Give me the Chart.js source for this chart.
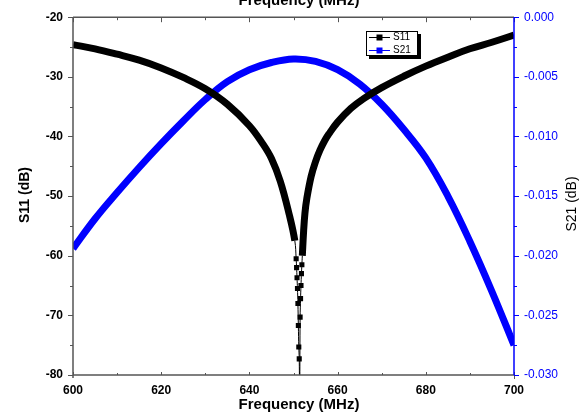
<!DOCTYPE html>
<html>
<head>
<meta charset="utf-8">
<script src="https://cdn.jsdelivr.net/npm/chart.js@4.4.0/dist/chart.umd.min.js"></script>
<style>
  html, body { margin: 0; padding: 0; background: #fff; }
  #wrap { width: 587px; height: 414px; }
</style>
</head>
<body>
<div id="wrap"><canvas id="grafico" width="587" height="414"></canvas></div>
<script>
// Datos
const freqS11 = [600, 605, 610, 615, 620, 625, 630, 635, 640, 643, 645, 647, 649,
  650.3, 650.6, 650.7, 650.8, 650.9, 651.0, 651.1, 651.2, 651.3, 651.4,
  651.5, 651.6, 651.7, 651.8, 651.9, 652.0, 652.3, 652.6, 653, 654, 655,
  656, 657, 658, 660, 663, 666, 670, 675, 680, 685, 690, 695, 700];
const s11 = [-24.6, -25.3, -26.2, -27.2, -28.5, -30.1, -32.0, -34.6, -38.2, -41.2, -43.7, -47.5, -53.0,
  -57.5, -60.5, -62.0, -63.7, -65.5, -68.0, -71.7, -75.3, -77.3, -84.0,
  -70.3, -67.2, -65.0, -63.0, -61.5, -60.0, -55.8, -52.8, -50.5, -46.7, -44.2,
  -42.3, -40.8, -39.6, -37.6, -35.3, -33.6, -31.8, -29.9, -28.2, -26.7, -25.3, -24.2, -23.0];

const freqS21 = [600, 605, 610, 615, 620, 625, 630, 635, 640, 645, 650, 655,
  660, 665, 670, 675, 680, 685, 690, 695, 700];
const s21 = [-0.0194, -0.0169, -0.0147, -0.0126, -0.0106, -0.0087, -0.0069, -0.0054, -0.0044, -0.0038, -0.0035, -0.0037,
  -0.0044, -0.0056, -0.0073, -0.0094, -0.0118, -0.0150, -0.0188, -0.0230, -0.0275];

const xTicks = [600, 620, 640, 660, 680, 700];
const yTicks = [-80, -70, -60, -50, -40, -30, -20];
const y2Ticks = [-0.030, -0.025, -0.020, -0.015, -0.010, -0.005, 0.000];

const fuente = "'Liberation Sans', Arial, sans-serif";
const azul = '#0000ff';

// Ejes, marcas, títulos y leyenda dibujados a mano
const ejesPlugin = {
  id: 'ejes',
  afterDraw(chart) {
    const { ctx, chartArea: a, scales } = chart;
    const sx = scales.x, sy = scales.y, sy2 = scales.y2;
    ctx.save();
    ctx.lineWidth = 1.5;
    ctx.strokeStyle = '#555';
    ctx.beginPath();
    ctx.moveTo(a.left, a.top); ctx.lineTo(a.right, a.top);
    ctx.moveTo(a.left, a.bottom); ctx.lineTo(a.right, a.bottom);
    ctx.moveTo(a.left, a.top); ctx.lineTo(a.left, a.bottom + 3);
    ctx.stroke();

    ctx.lineWidth = 1;
    ctx.beginPath();
    for (let f = 600; f <= 700; f += 10) {
      const px = Math.round(sx.getPixelForValue(f)) + 0.5;
      const mayor = f % 20 === 0;
      ctx.moveTo(px, a.top); ctx.lineTo(px, a.top + (mayor ? 5 : 3));
      ctx.moveTo(px, a.bottom); ctx.lineTo(px, a.bottom - (mayor ? 3 : 2));
      if (f === 700) { ctx.moveTo(px, a.bottom); ctx.lineTo(px, a.bottom + 4); }
    }
    for (let v = -80; v <= -20; v += 5) {
      const py = Math.round(sy.getPixelForValue(v)) + 0.5;
      const mayor = v % 10 === 0;
      ctx.moveTo(a.left, py); ctx.lineTo(a.left - (mayor ? 5 : 3), py);
    }
    ctx.stroke();

    ctx.strokeStyle = azul;
    ctx.lineWidth = 1.5;
    ctx.beginPath();
    ctx.moveTo(a.right, a.top); ctx.lineTo(a.right, a.bottom);
    ctx.stroke();
    ctx.lineWidth = 1;
    ctx.beginPath();
    for (let i = 0; i <= 12; i++) {
      const v = -0.0025 * i;
      const py = Math.round(sy2.getPixelForValue(v)) + 0.5;
      ctx.moveTo(a.right, py); ctx.lineTo(a.right + (i % 2 === 0 ? 5 : 3), py);
    }
    ctx.stroke();

    // títulos
    ctx.fillStyle = '#000';
    ctx.font = 'bold 15px ' + fuente;
    ctx.textAlign = 'center';
    ctx.textBaseline = 'alphabetic';
    ctx.fillText('Frequency (MHz)', 299, 409);
    ctx.fillText('Frequency (MHz)', 299, 5);

    ctx.save();
    ctx.translate(25, 195);
    ctx.rotate(-Math.PI / 2);
    ctx.font = 'bold 14px ' + fuente;
    ctx.textBaseline = 'middle';
    ctx.fillText('S11 (dB)', 0, 0);
    ctx.restore();

    ctx.save();
    ctx.translate(572, 204);
    ctx.rotate(-Math.PI / 2);
    ctx.font = '14px ' + fuente;
    ctx.textBaseline = 'middle';
    ctx.fillText('S21 (dB)', 0, 0);
    ctx.restore();

    // leyenda
    const lx = 366, ly = 31, lw = 52, lh = 25;
    ctx.fillStyle = '#000';
    ctx.fillRect(lx + 3, ly + 3, lw, lh);
    ctx.fillStyle = '#fff';
    ctx.fillRect(lx, ly, lw, lh);
    ctx.strokeStyle = '#000';
    ctx.lineWidth = 1;
    ctx.strokeRect(lx + 0.5, ly + 0.5, lw - 1, lh - 1);
    const entradas = [['S11', '#000', 37.5], ['S21', azul, 50.5]];
    entradas.forEach(([txt, col, yy]) => {
      ctx.strokeStyle = col;
      ctx.beginPath();
      ctx.moveTo(369, yy); ctx.lineTo(390, yy);
      ctx.stroke();
      ctx.fillStyle = col;
      ctx.fillRect(376.5, yy - 3, 6, 6);
      ctx.fillStyle = '#000';
      ctx.font = '10px ' + fuente;
      ctx.textAlign = 'left';
      ctx.textBaseline = 'middle';
      ctx.fillText(txt, 393, yy);
    });
    ctx.restore();
  }
};

const ctx = document.getElementById('grafico').getContext('2d');

const grafico = new Chart(ctx, {
  type: 'line',
  data: {
    datasets: [
      {
        label: 'S11',
        data: freqS11.map((f, i) => ({ x: f, y: s11[i] })),
        yAxisID: 'y',
        borderColor: '#000',
        backgroundColor: '#000',
        borderWidth: 7,
        tension: 0.4,
        borderJoinStyle: 'round',
        segment: {
          borderWidth: c => (c.p0.parsed.y < -60.1 || c.p1.parsed.y < -60.1) ? 1 : 7
        },
        pointStyle: 'rect',
        pointRadius: c => (c.raw && c.raw.y < -60.1 && c.raw.y > -80) ? 3.6 : 0,
        pointBorderWidth: 0
      },
      {
        label: 'S21',
        data: freqS21.map((f, i) => ({ x: f, y: s21[i] })),
        yAxisID: 'y2',
        borderColor: azul,
        backgroundColor: azul,
        borderWidth: 7,
        tension: 0.4,
        pointRadius: 0
      }
    ]
  },
  options: {
    responsive: false,
    animation: false,
    layout: { padding: { top: 15, left: 0, right: 0, bottom: 0 } },
    plugins: {
      legend: { display: false },
      tooltip: { enabled: false }
    },
    scales: {
      x: {
        type: 'linear',
        min: 600, max: 700,
        afterBuildTicks: s => { s.ticks = xTicks.map(v => ({ value: v })); },
        afterFit: s => { s.height = 39; },
        grid: { display: false, drawTicks: false },
        border: { display: false },
        ticks: {
          padding: 8,
          color: '#000',
          font: { family: fuente, size: 12, weight: 'bold' }
        }
      },
      y: {
        position: 'left',
        min: -80, max: -20,
        afterBuildTicks: s => { s.ticks = yTicks.map(v => ({ value: v })); },
        afterFit: s => { s.width = 73; },
        grid: { display: false, drawTicks: false },
        border: { display: false },
        ticks: {
          padding: 10,
          color: '#000',
          font: { family: fuente, size: 12, weight: 'bold' }
        }
      },
      y2: {
        position: 'right',
        min: -0.03, max: 0,
        afterBuildTicks: s => { s.ticks = y2Ticks.map(v => ({ value: v })); },
        afterFit: s => { s.width = 73; },
        grid: { display: false, drawTicks: false },
        border: { display: false },
        ticks: {
          padding: 10,
          color: azul,
          font: { family: fuente, size: 12 },
          callback: v => v.toFixed(3)
        }
      }
    }
  },
  plugins: [ejesPlugin]
});
</script>
</body>
</html>
